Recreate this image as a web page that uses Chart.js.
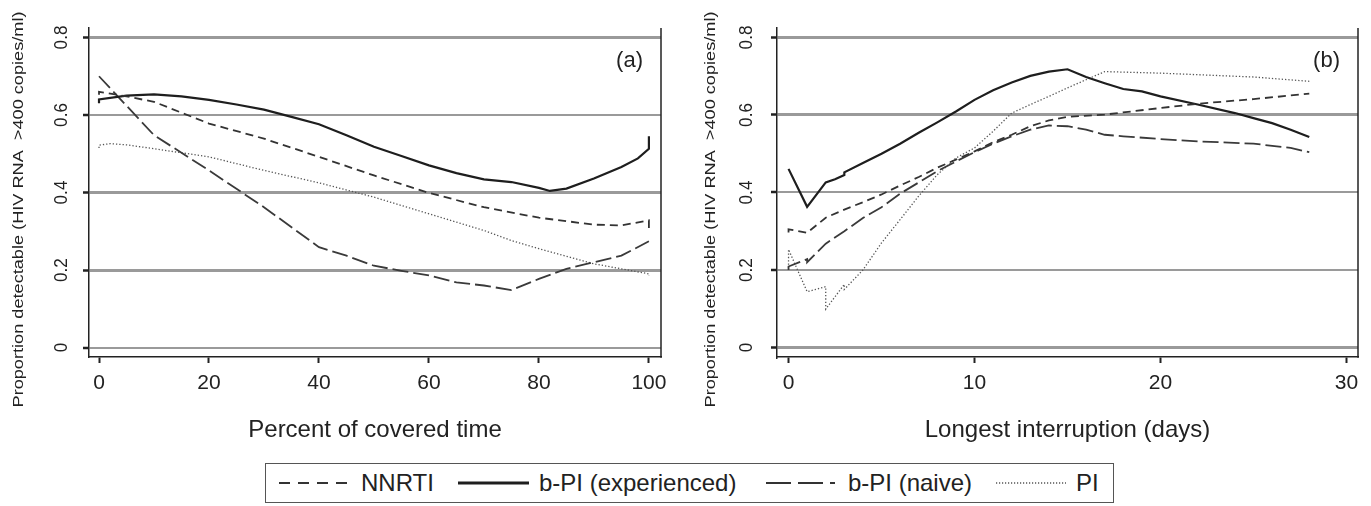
<!DOCTYPE html>
<html>
<head>
<meta charset="utf-8">
<title>Proportion detectable</title>
<script src="https://cdn.jsdelivr.net/npm/chart.js@4.4.1/dist/chart.umd.min.js"></script>
<style>
  body { margin: 0; background: #fff; width: 1371px; height: 506px; position: relative; overflow: hidden;
         font-family: "Liberation Sans", Arial, Helvetica, sans-serif; color: #222; }
  canvas { position: absolute; top: 0; }
  #pa { left: 0; }
  #pb { left: 686px; }
  #legend { position: absolute; left: 265px; top: 463px; width: 849px; height: 40px;
            border: 1.5px solid #555; box-sizing: border-box; }
  .item { position: absolute; top: 0; height: 100%; display: flex; align-items: center; font-size: 24px; white-space: nowrap; }
  .item svg { display: block; }
</style>
</head>
<body>
<canvas id="pa" width="686" height="455"></canvas>
<canvas id="pb" width="685" height="455"></canvas>

<div id="legend">
  <div class="item" style="left:13px">
    <svg width="70" height="6"><line x1="0" y1="3" x2="70" y2="3" stroke="#333" stroke-width="2" stroke-dasharray="11 8"/></svg>
    <span style="margin-left:12px">NNRTI</span>
  </div>
  <div class="item" style="left:192px">
    <svg width="71" height="6"><line x1="0" y1="3" x2="71" y2="3" stroke="#1e1e1e" stroke-width="3"/></svg>
    <span style="margin-left:10px">b-PI (experienced)</span>
  </div>
  <div class="item" style="left:500px">
    <svg width="69" height="6"><line x1="0" y1="3" x2="69" y2="3" stroke="#333" stroke-width="2" stroke-dasharray="25 7"/></svg>
    <span style="margin-left:13px">b-PI (naive)</span>
  </div>
  <div class="item" style="left:730px">
    <svg width="70" height="6"><line x1="0" y1="3" x2="70" y2="3" stroke="#555" stroke-width="1.3" stroke-dasharray="1.2 1.8"/></svg>
    <span style="margin-left:10px">PI</span>
  </div>
</div>

<script>
// Achsen / Ticks
const yTicks = [0, 0.2, 0.4, 0.6, 0.8];
const yTickLabels = ['0', '0.2', '0.4', '0.6', '0.8'];
const aXTicks = [0, 20, 40, 60, 80, 100];
const bXTicks = [0, 10, 20, 30];
const yTitle = 'Proportion detectable (HIV RNA  >400 copies/ml)';

// Panel (a): Percent of covered time
const aNnrtiX = [0, 0, 5, 10, 15, 20, 30, 40, 50, 60, 70, 80, 90, 95, 100, 100];
const aNnrtiY = [0.652, 0.660, 0.648, 0.634, 0.606, 0.578, 0.539, 0.492, 0.444, 0.399, 0.362, 0.335, 0.317, 0.315, 0.328, 0.306];
const aExpX = [0, 0, 5, 10, 15, 20, 25, 30, 35, 40, 45, 50, 55, 60, 65, 70, 75, 80, 82, 85, 90, 95, 98, 100, 100];
const aExpY = [0.630, 0.640, 0.650, 0.653, 0.648, 0.639, 0.627, 0.614, 0.595, 0.576, 0.548, 0.518, 0.494, 0.470, 0.450, 0.434, 0.427, 0.412, 0.404, 0.410, 0.436, 0.466, 0.488, 0.513, 0.545];
const aNaiveX = [0, 10, 20, 30, 40, 45, 50, 55, 60, 65, 70, 75, 80, 85, 90, 95, 100];
const aNaiveY = [0.700, 0.548, 0.457, 0.362, 0.259, 0.237, 0.211, 0.198, 0.186, 0.168, 0.160, 0.148, 0.177, 0.203, 0.220, 0.237, 0.274];
const aPiX = [0, 0, 2, 5, 10, 20, 30, 40, 50, 60, 70, 75, 80, 90, 95, 100, 100];
const aPiY = [0.515, 0.522, 0.526, 0.523, 0.513, 0.492, 0.457, 0.425, 0.388, 0.345, 0.302, 0.276, 0.255, 0.216, 0.203, 0.190, 0.185];

// Panel (b): Longest interruption (days)
const bNnrtiX = [0, 0, 1, 2, 3, 4, 5, 6, 7, 8, 9, 10, 11, 12, 13, 14, 15, 17, 20, 22, 25, 28];
const bNnrtiY = [0.297, 0.305, 0.296, 0.335, 0.356, 0.375, 0.395, 0.418, 0.440, 0.464, 0.485, 0.506, 0.530, 0.549, 0.571, 0.586, 0.595, 0.601, 0.618, 0.629, 0.641, 0.655];
const bExpX = [0, 1, 2, 2.5, 3, 3, 4, 5, 6, 7, 8, 9, 10, 11, 12, 13, 14, 15, 16, 17, 18, 19, 20, 22, 24, 25, 26, 27, 28];
const bExpY = [0.461, 0.363, 0.426, 0.434, 0.445, 0.452, 0.476, 0.500, 0.526, 0.554, 0.581, 0.609, 0.639, 0.664, 0.684, 0.701, 0.712, 0.718, 0.698, 0.682, 0.667, 0.661, 0.648, 0.627, 0.605, 0.592, 0.579, 0.562, 0.543];
const bNaiveX = [0, 0, 1, 1, 2, 3, 4, 5, 6, 7, 8, 9, 10, 11, 12, 13, 14, 15, 16, 17, 18, 20, 22, 25, 27, 28];
const bNaiveY = [0.200, 0.209, 0.228, 0.220, 0.268, 0.300, 0.334, 0.362, 0.397, 0.426, 0.455, 0.480, 0.504, 0.526, 0.545, 0.562, 0.573, 0.571, 0.562, 0.549, 0.545, 0.538, 0.532, 0.526, 0.515, 0.504];
const bPiX = [0, 0, 1, 2, 2, 3, 3, 4, 5, 6, 7, 8, 9, 10, 11, 12, 13, 14, 15, 16, 17, 20, 22, 25, 28];
const bPiY = [0.205, 0.253, 0.144, 0.157, 0.099, 0.163, 0.150, 0.200, 0.270, 0.330, 0.391, 0.446, 0.489, 0.515, 0.558, 0.605, 0.627, 0.648, 0.670, 0.691, 0.712, 0.708, 0.704, 0.698, 0.687];

const FONT = '"Liberation Sans", Arial, Helvetica, sans-serif';
const INK = '#222';

function pts(xs, ys) {
    return xs.map((x, i) => ({ x: x, y: ys[i] }));
}

// rechter Rahmen, gedrehte y-Beschriftung, Titel und Panel-Buchstabe
const panelDecor = {
    id: 'panelDecor',
    afterDraw(chart, args, opts) {
        const ctx = chart.ctx;
        const a = chart.chartArea;
        const y = chart.scales.y;
        ctx.save();
        ctx.strokeStyle = INK;
        ctx.lineWidth = 1.5;
        ctx.beginPath();
        ctx.moveTo(a.right, a.top);
        ctx.lineTo(a.right, a.bottom + 0.75);
        ctx.stroke();

        ctx.fillStyle = INK;
        ctx.textAlign = 'center';
        ctx.textBaseline = 'middle';
        ctx.font = '19px ' + FONT;
        yTicks.forEach((v, i) => {
            ctx.save();
            ctx.translate(a.left - opts.tickOff, y.getPixelForValue(v));
            ctx.rotate(-Math.PI / 2);
            ctx.scale(0.9, 1);
            ctx.fillText(yTickLabels[i], 0, 0);
            ctx.restore();
        });

        // Achsentitel: im Original entlang der Schrift etwas gestreckt
        ctx.save();
        ctx.font = '15px ' + FONT;
        ctx.translate(a.left - opts.titleOff, (a.top + a.bottom) / 2 + 17);
        ctx.rotate(-Math.PI / 2);
        ctx.scale(1.21, 1);
        ctx.fillText(yTitle, 0, 0);
        ctx.restore();

        ctx.textAlign = 'right';
        ctx.font = '22px ' + FONT;
        ctx.fillText(opts.label, a.right - 18, 61);
        ctx.restore();
    }
};

function gridWidth(thick) {
    return c => (c.tick && thick.includes(c.tick.value)) ? 3 : 2;
}

function makePanel(id, cfg) {
    return new Chart(document.getElementById(id), {
        type: 'line',
        data: {
            datasets: [
                { label: 'NNRTI', data: pts(cfg.nnrti[0], cfg.nnrti[1]), borderColor: '#333', borderWidth: 1.8, borderDash: [8, 5] },
                { label: 'b-PI (experienced)', data: pts(cfg.exp[0], cfg.exp[1]), borderColor: '#1e1e1e', borderWidth: 2.2 },
                { label: 'b-PI (naive)', data: pts(cfg.naive[0], cfg.naive[1]), borderColor: '#3a3a3a', borderWidth: 1.8, borderDash: [16, 5] },
                { label: 'PI', data: pts(cfg.pi[0], cfg.pi[1]), borderColor: '#555', borderWidth: 1.3, borderDash: [1.3, 2] }
            ]
        },
        options: {
            responsive: false,
            animation: false,
            layout: { padding: { left: 0, right: cfg.padRight, top: 28, bottom: 0 } },
            elements: { point: { radius: 0 }, line: { tension: 0, fill: false } },
            plugins: {
                legend: { display: false },
                tooltip: { enabled: false },
                panelDecor: { label: cfg.label, tickOff: cfg.tickOff, titleOff: cfg.titleOff }
            },
            scales: {
                x: {
                    type: 'linear',
                    min: cfg.xMin,
                    max: cfg.xMax,
                    afterBuildTicks: s => { s.ticks = cfg.xTicks.map(v => ({ value: v })); },
                    afterFit: s => { s.height = 98; },
                    grid: { drawOnChartArea: false, drawTicks: true, tickLength: 6, tickColor: INK, tickWidth: 2 },
                    border: { display: true, color: INK, width: 1.5 },
                    ticks: { color: INK, font: { size: 21, family: FONT }, padding: 8, maxRotation: 0, callback: v => String(v) },
                    title: { display: true, text: cfg.xTitle, color: INK, font: { size: 24, family: FONT }, padding: { top: 0, bottom: 10 } }
                },
                y: {
                    type: 'linear',
                    min: -0.0245,
                    max: 0.8245,
                    afterBuildTicks: s => { s.ticks = yTicks.map(v => ({ value: v })); },
                    afterFit: s => { s.width = cfg.yWidth; },
                    grid: { color: '#9a9a9a', lineWidth: gridWidth(cfg.thick), drawTicks: true, tickLength: 6, tickColor: INK, tickWidth: 2.5 },
                    border: { display: true, color: INK, width: 1.5 },
                    ticks: { display: false }
                }
            }
        },
        plugins: [panelDecor]
    });
}

makePanel('pa', {
    nnrti: [aNnrtiX, aNnrtiY], exp: [aExpX, aExpY], naive: [aNaiveX, aNaiveY], pi: [aPiX, aPiY],
    xMin: -1.82, xMax: 102.2, xTicks: aXTicks, xTitle: 'Percent of covered time',
    yWidth: 89, padRight: 25, label: '(a)', thick: [0.8, 0.4, 0.2], tickOff: 27, titleOff: 70
});

makePanel('pb', {
    nnrti: [bNnrtiX, bNnrtiY], exp: [bExpX, bExpY], naive: [bNaiveX, bNaiveY], pi: [bPiX, bPiY],
    xMin: -0.62, xMax: 30.62, xTicks: bXTicks, xTitle: 'Longest interruption (days)',
    yWidth: 91, padRight: 13, label: '(b)', thick: [0.8, 0.6, 0], tickOff: 30, titleOff: 66
});
</script>
</body>
</html>
